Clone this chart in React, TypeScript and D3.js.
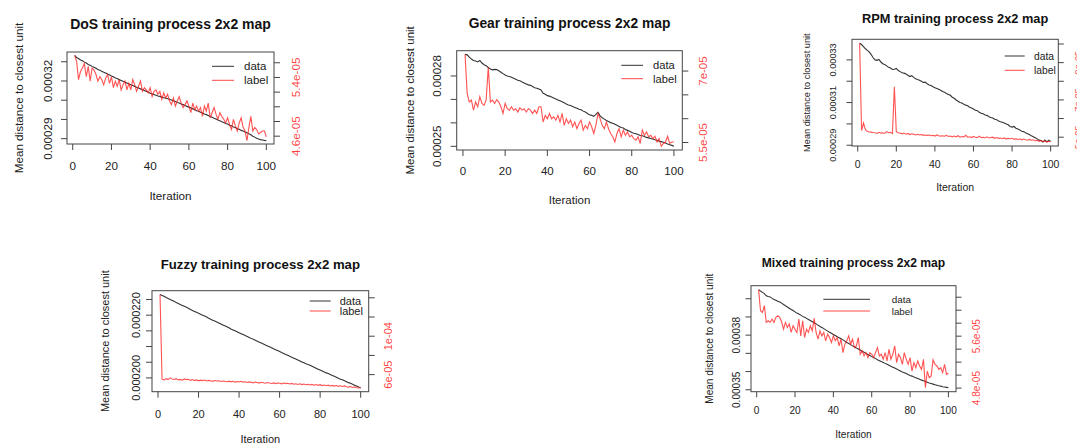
import React from "react";
import * as d3 from "d3";

// ---------- data ----------
const ITERATIONS = d3.range(1, 101);
const X_TICKS = [0, 20, 40, 60, 80, 100];

// DoS (data in 1e-5, label in 1e-6)
const DOS_DATA_E5 = [
  33.33, 33.22, 33.17, 33.09, 33.05, 32.98, 32.93, 32.86, 32.82, 32.76,
  32.71, 32.66, 32.6, 32.56, 32.5, 32.46, 32.41, 32.36, 32.31, 32.26,
  32.22, 32.16, 32.13, 32.07, 32.03, 31.98, 31.94, 31.89, 31.84, 31.8,
  31.76, 31.72, 31.67, 31.63, 31.59, 31.54, 31.5, 31.46, 31.41, 31.36,
  31.33, 31.3, 31.26, 31.22, 31.2, 31.16, 31.13, 31.11, 31.08, 31.05,
  31.01, 30.97, 30.93, 30.88, 30.85, 30.8, 30.77, 30.72, 30.68, 30.64,
  30.6, 30.55, 30.52, 30.45, 30.43, 30.37, 30.34, 30.28, 30.25, 30.2,
  30.15, 30.11, 30.06, 30.02, 29.97, 29.93, 29.88, 29.84, 29.79, 29.76,
  29.7, 29.67, 29.61, 29.58, 29.52, 29.49, 29.43, 29.4, 29.35, 29.31,
  29.25, 29.2, 29.13, 29.08, 29.02, 28.98, 28.95, 28.93, 28.91, 28.9,
];
const DOS_LABEL_E6 = [
  57.0, 56.2, 53.7, 54.8, 55.3, 55.9, 54.1, 55.5, 53.5, 55.3,
  55.0, 54.4, 53.5, 54.1, 53.7, 53.0, 53.9, 54.4, 53.2, 54.1,
  52.6, 53.5, 52.8, 53.7, 52.3, 53.0, 53.5, 52.3, 53.2, 52.3,
  53.7, 53.0, 52.1, 52.8, 53.5, 52.1, 52.6, 52.3, 51.9, 52.6,
  51.4, 52.1, 52.3, 51.7, 52.1, 51.0, 51.9, 51.2, 51.7, 50.8,
  50.3, 51.2, 50.1, 50.8, 51.4, 50.5, 49.9, 50.3, 50.8, 50.1,
  49.2, 50.5, 49.6, 50.1, 49.4, 49.9, 48.7, 50.1, 49.4, 50.5,
  48.5, 49.2, 49.9, 49.0, 48.3, 49.2, 48.7, 48.3, 47.8, 48.5,
  47.6, 46.9, 48.3, 47.4, 46.7, 47.8, 48.5, 47.2, 46.7, 45.4,
  47.2, 48.7, 46.7, 47.2, 46.9, 46.3, 46.5, 46.7, 46.7, 45.9,
];

// Gear (data in 1e-5, label in 1e-6)
const GEAR_DATA_E5 = [
  28.92, 28.9, 28.8, 28.72, 28.66, 28.64, 28.6, 28.66, 28.55, 28.48,
  28.44, 28.36, 28.3, 28.26, 28.28, 28.27, 28.22, 28.16, 28.1, 28.04,
  28.0, 27.98, 27.94, 27.9, 27.86, 27.82, 27.8, 27.74, 27.7, 27.66,
  27.62, 27.6, 27.55, 27.5, 27.48, 27.44, 27.4, 27.26, 27.22, 27.16,
  27.14, 27.1, 27.06, 27.02, 26.98, 26.94, 26.9, 26.86, 26.8, 26.76,
  26.74, 26.7, 26.66, 26.62, 26.58, 26.56, 26.5, 26.46, 26.4, 26.35,
  26.32, 26.28, 26.36, 26.45, 26.3, 26.22, 26.16, 26.1, 26.06, 26.01,
  25.98, 25.94, 25.9, 25.84, 25.8, 25.78, 25.72, 25.68, 25.64, 25.59,
  25.56, 25.54, 25.5, 25.46, 25.45, 25.42, 25.38, 25.36, 25.33, 25.31,
  25.28, 25.26, 25.22, 25.2, 25.17, 25.14, 25.1, 25.07, 25.04, 25.0,
];
const GEAR_LABEL_E6 = [
  73.5, 65.3, 63.5, 63.9, 61.8, 63.5, 62.5, 64.6, 63.2, 62.8,
  63.9, 70.8, 63.5, 63.9, 63.2, 64.0, 63.5, 62.5, 61.1, 63.2,
  62.1, 61.8, 62.5, 61.8, 62.1, 61.4, 62.3, 61.8, 62.1, 61.4,
  62.1, 61.8, 61.1, 61.8, 61.1, 62.5, 62.5, 59.3, 60.7, 60.0,
  61.1, 60.0, 60.4, 59.7, 60.7, 59.3, 61.1, 58.6, 60.0, 59.0,
  59.7, 58.3, 59.3, 57.9, 59.0, 59.7, 57.6, 58.6, 57.9, 59.3,
  58.3, 56.9, 58.6, 61.1, 60.0, 58.6, 57.9, 59.3, 57.9, 56.9,
  56.2, 55.1, 56.9, 57.9, 56.2, 57.6, 56.5, 57.2, 56.2, 56.5,
  55.8, 55.5, 56.2, 54.8, 57.6, 56.5, 57.2, 56.2, 56.5, 55.8,
  56.3, 55.1, 55.8, 54.2, 54.8, 55.1, 56.3, 54.8, 55.1, 55.1,
];

// RPM (data in 1e-5, label in 1e-5)
const RPM_DATA_E5 = [
  33.78, 33.72, 33.62, 33.52, 33.45, 33.36, 33.25, 33.1, 33.0, 32.98,
  33.02, 32.9, 32.82, 32.78, 32.72, 32.65, 32.62, 32.55, 32.56, 32.6,
  32.5, 32.45, 32.4, 32.38, 32.34, 32.28, 32.22, 32.26, 32.18, 32.12,
  32.08, 32.05, 32.0, 31.94, 31.96, 31.88, 31.82, 31.8, 31.74, 31.7,
  31.66, 31.62, 31.58, 31.52, 31.48, 31.42, 31.38, 31.34, 31.25, 31.2,
  31.12, 31.06, 31.0, 30.98, 30.92, 30.88, 30.85, 30.78, 30.74, 30.7,
  30.64, 30.62, 30.55, 30.5, 30.48, 30.42, 30.4, 30.34, 30.3, 30.28,
  30.22, 30.2, 30.14, 30.1, 30.08, 30.04, 30.0, 29.96, 29.88, 29.85,
  29.88, 29.8, 29.76, 29.72, 29.66, 29.64, 29.58, 29.54, 29.5, 29.44,
  29.4, 29.35, 29.3, 29.24, 29.22, 29.15, 29.24, 29.16, 29.24, 29.18,
];
const RPM_LABEL_E5 = [
  10.04, 5.36, 5.77, 5.4, 5.3, 5.28, 5.27, 5.25, 5.24, 5.2,
  5.26, 5.22, 5.24, 5.2, 5.3, 5.24, 5.26, 5.2, 7.7, 5.3,
  5.24, 5.22, 5.18, 5.22, 5.16, 5.2, 5.14, 5.18, 5.16, 5.12,
  5.16, 5.12, 5.14, 5.1, 5.12, 5.1, 5.12, 5.08, 5.1, 5.06,
  5.12, 5.08, 5.06, 5.08, 5.05, 5.1, 5.04, 5.06, 5.02, 5.06,
  5.02, 5.08, 5.0, 5.04, 5.02, 5.1, 5.0, 5.02, 4.98, 5.04,
  5.0, 4.98, 5.06, 4.98, 5.0, 4.96, 5.02, 4.96, 4.98, 5.0,
  4.94, 4.98, 4.94, 4.96, 4.92, 4.96, 4.9, 4.94, 4.92, 4.94,
  4.88, 4.92, 4.88, 4.9, 4.86, 4.9, 4.86, 4.84, 4.88, 4.84,
  4.86, 4.8, 4.84, 4.78, 4.82, 4.76, 4.8, 4.74, 4.78, 4.76,
];

// Fuzzy (data in 1e-6, label in 1e-5)
const FUZZY_DATA_E6 = [
  226.6, 226.3, 226.0, 225.6, 225.3, 225.0, 224.7, 224.4, 224.0, 223.7,
  223.4, 223.1, 222.8, 222.5, 222.2, 221.8, 221.5, 221.2, 220.9, 220.6,
  220.3, 220.0, 219.7, 219.4, 219.0, 218.7, 218.4, 218.1, 217.8, 217.5,
  217.2, 216.9, 216.6, 216.3, 216.0, 215.6, 215.3, 215.0, 214.7, 214.4,
  214.1, 213.8, 213.5, 213.2, 212.9, 212.6, 212.3, 212.0, 211.7, 211.4,
  211.1, 210.8, 210.5, 210.2, 209.9, 209.6, 209.3, 209.0, 208.7, 208.4,
  208.1, 207.8, 207.5, 207.2, 206.9, 206.6, 206.3, 206.0, 205.7, 205.4,
  205.1, 204.8, 204.5, 204.3, 204.0, 203.7, 203.4, 203.1, 202.8, 202.5,
  202.2, 201.9, 201.6, 201.4, 201.1, 200.8, 200.5, 200.2, 199.9, 199.6,
  199.4, 199.1, 198.8, 198.5, 198.3, 198.0, 197.7, 197.4, 197.1, 196.8,
];
const FUZZY_LABEL_E5 = [
  14.35, 5.52, 5.45, 5.58, 5.48, 5.66, 5.55, 5.5, 5.58, 5.45,
  5.5, 5.42, 5.55, 5.48, 5.52, 5.4, 5.48, 5.38, 5.45, 5.35,
  5.42, 5.38, 5.44, 5.34, 5.4, 5.36, 5.3, 5.38, 5.33, 5.36,
  5.28, 5.34, 5.3, 5.26, 5.32, 5.25, 5.3, 5.22, 5.28, 5.24,
  5.3, 5.22, 5.26, 5.18, 5.24, 5.2, 5.14, 5.22, 5.18, 5.12,
  5.2, 5.15, 5.1, 5.18, 5.12, 5.08, 5.14, 5.06, 5.12, 5.1,
  5.04, 5.12, 5.06, 5.1, 5.02, 5.08, 5.0, 5.05, 4.98, 5.04,
  4.96, 5.02, 4.94, 5.0, 4.92, 4.98, 4.9, 4.96, 4.88, 4.95,
  4.86, 4.92, 4.84, 4.9, 4.82, 4.88, 4.8, 4.86, 4.78, 4.84,
  4.76, 4.82, 4.74, 4.7, 4.76, 4.66, 4.72, 4.64, 4.61, 4.68,
];

// Mixed (data in 1e-5, label in 1e-6)
const MIXED_DATA_E5 = [
  40.5, 40.42, 40.35, 40.28, 40.16, 40.12, 40.1, 40.02, 39.96, 39.92,
  39.86, 39.82, 39.76, 39.68, 39.61, 39.55, 39.48, 39.41, 39.35, 39.28,
  39.21, 39.16, 39.1, 39.03, 38.98, 38.92, 38.86, 38.8, 38.74, 38.68,
  38.62, 38.55, 38.48, 38.42, 38.36, 38.29, 38.22, 38.16, 38.1, 38.04,
  37.98, 37.91, 37.86, 37.8, 37.74, 37.67, 37.6, 37.54, 37.48, 37.41,
  37.35, 37.3, 37.24, 37.18, 37.12, 37.06, 37.0, 36.94, 36.88, 36.82,
  36.77, 36.71, 36.65, 36.6, 36.55, 36.5, 36.45, 36.4, 36.35, 36.29,
  36.24, 36.19, 36.14, 36.08, 36.03, 35.98, 35.94, 35.89, 35.84, 35.79,
  35.75, 35.7, 35.66, 35.62, 35.58, 35.53, 35.49, 35.45, 35.41, 35.37,
  35.34, 35.31, 35.28, 35.25, 35.22, 35.2, 35.17, 35.15, 35.13, 35.11,
];
const MIXED_LABEL_E6 = [
  63.17, 59.92, 59.66, 60.7, 58.12, 58.37, 58.12, 58.63, 58.12, 58.89,
  59.15, 58.89, 58.22, 57.08, 58.12, 57.34, 57.86, 56.57, 57.6, 57.08,
  56.57, 58.63, 56.05, 58.37, 55.79, 57.08, 56.57, 57.6, 56.83, 58.74,
  56.57, 55.53, 56.83, 56.05, 56.57, 55.28, 56.31, 55.79, 55.02, 56.05,
  55.28, 55.79, 54.5, 55.53, 53.47, 54.76, 55.28, 56.05, 54.76, 55.53,
  54.25, 54.5, 55.79, 53.21, 53.73, 52.95, 53.47, 52.7, 53.47, 53.21,
  52.7, 53.47, 54.25, 52.95, 53.21, 52.44, 53.47, 52.18, 53.99, 52.44,
  53.21, 54.5, 51.92, 53.21, 52.7, 51.66, 53.47, 52.44, 51.66, 52.7,
  50.63, 51.92, 51.15, 52.18, 51.41, 50.89, 52.44, 48.05, 50.63, 49.6,
  49.86, 52.34, 51.66, 51.41, 50.89, 51.15, 50.37, 51.66, 50.12, 50.27,
];

// axis ticks and their (R-thinned) labels
const DOS_LEFT_TICKS = [0.00029, 0.0003, 0.00031, 0.00032, 0.00033];
const DOS_LEFT_LABELS = ["0.00029", "", "", "0.00032", ""];
const DOS_RIGHT_TICKS = [4.6e-5, 4.8e-5, 5.0e-5, 5.2e-5, 5.4e-5, 5.6e-5];
const DOS_RIGHT_LABELS = ["4.6e-05", "", "", "", "5.4e-05", ""];

const GEAR_LEFT_TICKS = [0.00025, 0.00026, 0.00027, 0.00028];
const GEAR_LEFT_LABELS = ["0.00025", "", "", "0.00028"];
const GEAR_RIGHT_TICKS = [5.5e-5, 6.0e-5, 6.5e-5, 7.0e-5];
const GEAR_RIGHT_LABELS = ["5.5e-05", "", "", "7e-05"];

const RPM_LEFT_TICKS = [0.00029, 0.0003, 0.00031, 0.00032, 0.00033];
const RPM_LEFT_LABELS = ["0.00029", "", "0.00031", "", "0.00033"];
const RPM_RIGHT_TICKS = [5e-5, 6e-5, 7e-5, 8e-5, 9e-5, 1e-4];
const RPM_RIGHT_LABELS = ["5e-05", "", "7e-05", "", "9e-05", ""];

const FUZZY_LEFT_TICKS = [0.0002, 0.000205, 0.00021, 0.000215, 0.00022, 0.000225];
const FUZZY_LEFT_LABELS = ["0.000200", "", "", "", "0.000220", ""];
const FUZZY_RIGHT_TICKS = [6e-5, 8e-5, 1e-4, 1.2e-4, 1.4e-4];
const FUZZY_RIGHT_LABELS = ["6e-05", "", "1e-04", "", ""];

const MIXED_LEFT_TICKS = [0.00035, 0.00036, 0.00037, 0.00038, 0.00039, 0.0004];
const MIXED_LEFT_LABELS = ["0.00035", "", "", "0.00038", "", ""];
const MIXED_RIGHT_TICKS = [4.8e-5, 5.0e-5, 5.2e-5, 5.4e-5, 5.6e-5, 5.8e-5, 6.0e-5, 6.2e-5];
const MIXED_RIGHT_LABELS = ["4.8e-05", "", "", "", "5.6e-05", "", "", ""];

const SERIES_NAMES = ["data", "label"];
const X_TITLE = "Iteration";
const Y_TITLE = "Mean distance to closest unit";

// ---------- layout ----------
type Layout = {
  x0: number; x1: number; y0: number; y1: number;
  titleY: number; titleSize: number;
  xTickY: number; xLabY: number; yTickX: number; yLabX: number; rTickX: number;
  fontH: number; fontV: number; tick: number;
  legLine: [number, number]; legTextX: number; legRows: [number, number]; legFont: number;
};

type PanelDef = {
  title: string;
  data: number[];
  label: number[];
  lt: number[]; ll: string[]; rt: number[]; rl: string[];
  L: Layout;
};

const PANELS: PanelDef[] = [
  {
    title: "DoS training process 2x2 map",
    data: DOS_DATA_E5.map((v) => v * 1e-5),
    label: DOS_LABEL_E6.map((v) => v * 1e-6),
    lt: DOS_LEFT_TICKS, ll: DOS_LEFT_LABELS, rt: DOS_RIGHT_TICKS, rl: DOS_RIGHT_LABELS,
    L: {
      x0: 67, x1: 274, y0: 52, y1: 144, titleY: 28.5, titleSize: 14,
      xTickY: 165.7, xLabY: 195, yTickX: 47.3, yLabX: 18, rTickX: 295,
      fontH: 11.7, fontV: 11.7, tick: 6,
      legLine: [212, 234], legTextX: 244, legRows: [66.3, 80.3], legFont: 11.5,
    },
  },
  {
    title: "Gear training process 2x2 map",
    data: GEAR_DATA_E5.map((v) => v * 1e-5),
    label: GEAR_LABEL_E6.map((v) => v * 1e-6),
    lt: GEAR_LEFT_TICKS, ll: GEAR_LEFT_LABELS, rt: GEAR_RIGHT_TICKS, rl: GEAR_RIGHT_LABELS,
    L: {
      x0: 456.7, x1: 682.3, y0: 50.7, y1: 150, titleY: 28.3, titleSize: 13.8,
      xTickY: 171.3, xLabY: 200, yTickX: 437.3, yLabX: 410, rTickX: 703.3,
      fontH: 11.5, fontV: 11.5, tick: 6,
      legLine: [621.3, 643], legTextX: 653, legRows: [65.3, 78.7], legFont: 11.2,
    },
  },
  {
    title: "RPM training process 2x2 map",
    data: RPM_DATA_E5.map((v) => v * 1e-5),
    label: RPM_LABEL_E5.map((v) => v * 1e-5),
    lt: RPM_LEFT_TICKS, ll: RPM_LEFT_LABELS, rt: RPM_RIGHT_TICKS, rl: RPM_RIGHT_LABELS,
    L: {
      x0: 852, x1: 1058.3, y0: 39.3, y1: 146, titleY: 22.7, titleSize: 12.8,
      xTickY: 164, xLabY: 186.7, yTickX: 833.3, yLabX: 807.3, rTickX: 1077.5,
      fontH: 10.5, fontV: 9.2, tick: 5.5,
      legLine: [1004.7, 1024.7], legTextX: 1034, legRows: [56, 70.3], legFont: 10.3,
    },
  },
  {
    title: "Fuzzy training process 2x2 map",
    data: FUZZY_DATA_E6.map((v) => v * 1e-6),
    label: FUZZY_LABEL_E5.map((v) => v * 1e-5),
    lt: FUZZY_LEFT_TICKS, ll: FUZZY_LEFT_LABELS, rt: FUZZY_RIGHT_TICKS, rl: FUZZY_RIGHT_LABELS,
    L: {
      x0: 152, x1: 368.7, y0: 290.7, y1: 391.7, titleY: 269, titleSize: 13.2,
      xTickY: 414, xLabY: 439.3, yTickX: 136.3, yLabX: 105, rTickX: 387.7,
      fontH: 11, fontV: 11, tick: 6,
      legLine: [309.7, 330.7], legTextX: 339.7, legRows: [301, 311], legFont: 11,
    },
  },
  {
    title: "Mixed training process 2x2 map",
    data: MIXED_DATA_E5.map((v) => v * 1e-5),
    label: MIXED_LABEL_E6.map((v) => v * 1e-6),
    lt: MIXED_LEFT_TICKS, ll: MIXED_LEFT_LABELS, rt: MIXED_RIGHT_TICKS, rl: MIXED_RIGHT_LABELS,
    L: {
      x0: 751, x1: 956, y0: 285.7, y1: 391.7, titleY: 266.7, titleSize: 12.1,
      xTickY: 410, xLabY: 434.3, yTickX: 736.7, yLabX: 709.3, rTickX: 976.7,
      fontH: 10.1, fontV: 10.1, tick: 5.5,
      legLine: [823.3, 870], legTextX: 891.7, legRows: [299.3, 311], legFont: 9.9,
    },
  },
];

const FONT = "'Liberation Sans', Arial, Helvetica, sans-serif";
const INK = "#222";
const RED = "#ff1a1a";

function padded(ext: [number, number]): [number, number] {
  const r = ext[1] - ext[0];
  return [ext[0] - 0.04 * r, ext[1] + 0.04 * r];
}

function Panel({ p }: { p: PanelDef }) {
  const L = p.L;
  const xs = d3.scaleLinear().domain(padded([1, 100])).range([L.x0, L.x1]);
  const yl = d3
    .scaleLinear()
    .domain(padded(d3.extent(p.data) as [number, number]))
    .range([L.y1, L.y0]);
  const yr = d3
    .scaleLinear()
    .domain(padded(d3.extent(p.label) as [number, number]))
    .range([L.y1, L.y0]);
  const mk = (ys: d3.ScaleLinear<number, number>) =>
    d3
      .line<number>()
      .x((_, i) => xs(ITERATIONS[i]))
      .y((v) => ys(v));
  const cx = (L.x0 + L.x1) / 2;
  const cy = (L.y0 + L.y1) / 2;
  return (
    <g fontFamily={FONT}>
      <text x={cx} y={L.titleY} textAnchor="middle" fontWeight="bold" fontSize={L.titleSize} fill="#111">
        {p.title}
      </text>
      <path d={mk(yl)(p.data) || ""} fill="none" stroke="#333" strokeWidth={1.1} />
      <path d={mk(yr)(p.label) || ""} fill="none" stroke={RED} strokeOpacity={0.75} strokeWidth={1.1} />
      <rect x={L.x0} y={L.y0} width={L.x1 - L.x0} height={L.y1 - L.y0} fill="none" stroke="#444" strokeWidth={1} />
      {/* x axis */}
      {X_TICKS.map((t) => (
        <g key={"x" + t}>
          <line x1={xs(t)} x2={xs(t)} y1={L.y1} y2={L.y1 + L.tick} stroke="#444" />
          <text x={xs(t)} y={L.xTickY} textAnchor="middle" dominantBaseline="central" fontSize={L.fontH} fill={INK}>
            {t}
          </text>
        </g>
      ))}
      <text x={cx} y={L.xLabY} textAnchor="middle" dominantBaseline="central" fontSize={L.fontH} fill={INK}>
        {X_TITLE}
      </text>
      {/* left axis */}
      {p.lt.map((t, i) => (
        <g key={"l" + i}>
          <line x1={L.x0 - L.tick} x2={L.x0} y1={yl(t)} y2={yl(t)} stroke="#444" />
          {p.ll[i] ? (
            <text
              transform={`translate(${L.yTickX},${yl(t)}) rotate(-90)`}
              textAnchor="middle"
              dominantBaseline="central"
              fontSize={L.fontV}
              fill={INK}
            >
              {p.ll[i]}
            </text>
          ) : null}
        </g>
      ))}
      <text
        transform={`translate(${L.yLabX},${cy}) rotate(-90)`}
        textAnchor="middle"
        dominantBaseline="central"
        fontSize={L.fontV}
        fill={INK}
      >
        {Y_TITLE}
      </text>
      {/* right axis */}
      {p.rt.map((t, i) => (
        <g key={"r" + i}>
          <line x1={L.x1} x2={L.x1 + L.tick} y1={yr(t)} y2={yr(t)} stroke="#444" />
          {p.rl[i] ? (
            <text
              transform={`translate(${L.rTickX},${yr(t)}) rotate(-90)`}
              textAnchor="middle"
              dominantBaseline="central"
              fontSize={L.fontV}
              fill={RED}
              fillOpacity={0.85}
            >
              {p.rl[i]}
            </text>
          ) : null}
        </g>
      ))}
      {/* legend */}
      {SERIES_NAMES.map((name, i) => (
        <g key={name}>
          <line
            x1={L.legLine[0]}
            x2={L.legLine[1]}
            y1={L.legRows[i]}
            y2={L.legRows[i]}
            stroke={i === 0 ? "#333" : RED}
            strokeOpacity={i === 0 ? 1 : 0.8}
          />
          <text x={L.legTextX} y={L.legRows[i]} dominantBaseline="central" fontSize={L.legFont} fill={INK}>
            {name}
          </text>
        </g>
      ))}
    </g>
  );
}

export default function App() {
  return (
    <svg
      width={1077}
      height={444}
      viewBox="0 0 1077 444"
      style={{ position: "absolute", left: 0, top: 0, background: "#fff" }}
    >
      <rect x={0} y={0} width={1077} height={444} fill="#fff" />
      {PANELS.map((p) => (
        <Panel key={p.title} p={p} />
      ))}
    </svg>
  );
}
